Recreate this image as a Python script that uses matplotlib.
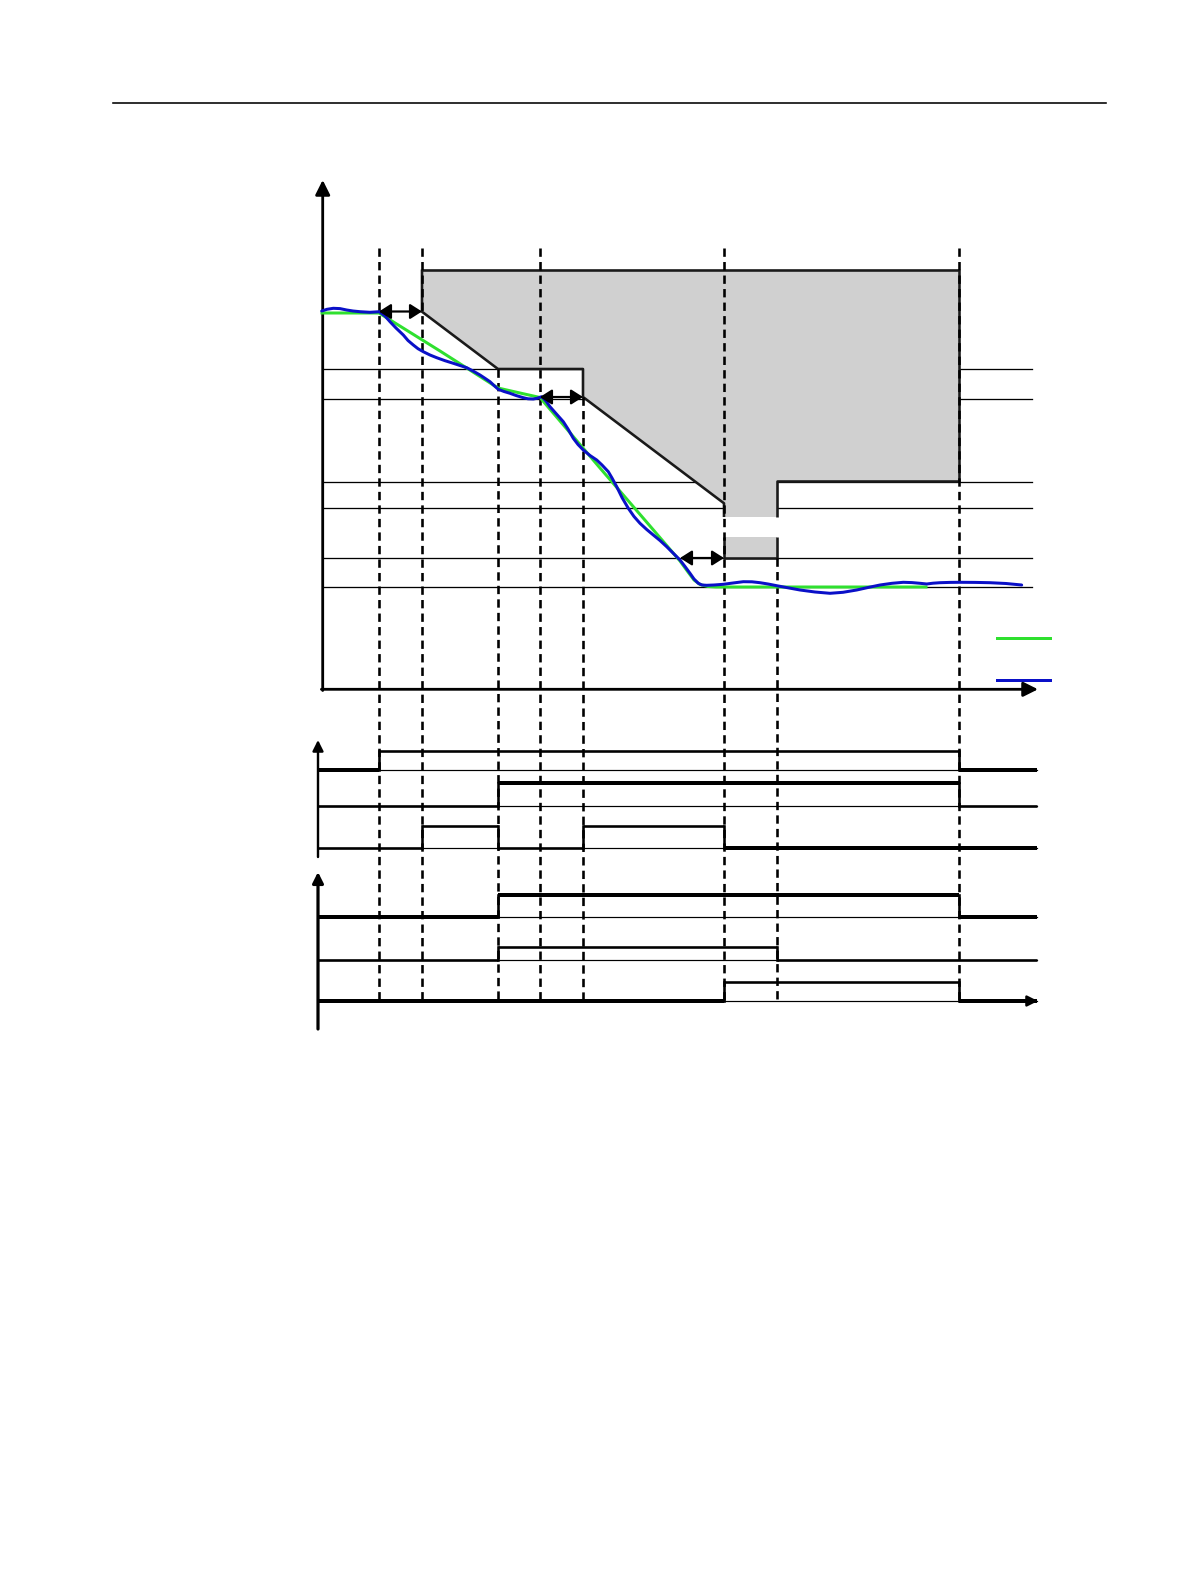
import numpy as np
import matplotlib
matplotlib.use("Agg")
import matplotlib.pyplot as plt
from matplotlib.patches import Polygon, Rectangle

# ---- diagram data (drawing units = pixels of the page) ----
# event times t1..t8 marked by dashed verticals
t_events = [379, 422, 498, 540, 583, 724, 777, 959]
t_dash_top = [248, 248, 369, 248, 397, 248, 558, 248]
t_dash_bottom = 1001

# main plot levels
ref_levels = [369, 399, 482, 508, 558, 587]

# grey forbidden zone, outline of the upper block and the lower block
zone_x = [422, 959, 959, 777, 777, 724, 724, 583, 583, 498, 422]
zone_y = [269.5, 269.5, 481, 481, 517, 517, 503.3, 397, 369, 369, 311.7]
notch_x = [724, 777]
notch_y = [537, 558]

# reference profile (green)
ref_x = [322, 379, 440, 498, 520, 540, 600, 650, 680, 688, 694, 700, 708, 716, 926]
ref_y = [313, 313, 351, 388, 393, 397.5, 468, 526, 561, 572, 580, 584.5, 586.5, 587, 587]

# measured profile (blue)
meas_x = [321.7, 327, 333.3, 340, 346.7, 353, 360, 370, 379.3, 385, 390, 396,
          403.3, 408, 413.3, 418, 423.3, 430, 436.7, 445, 453.3, 460, 466.7,
          473, 480, 485, 490, 494, 498.3, 504, 510, 516, 523.3, 528, 533.3,
          537, 541.7, 546, 550, 556, 563.3, 568, 573.3, 578, 583.3, 590,
          596.7, 602, 608.3, 612, 616.7, 622, 628.3, 634, 640, 646.7, 653.3,
          660, 666.7, 673, 680, 685, 690, 694, 698.3, 702, 706.7, 714, 723.3,
          733, 743.3, 752, 760, 768, 776.7, 788, 800, 815, 830, 843, 856.7,
          868, 880, 892, 903.3, 912, 920, 926.7, 933, 940, 950, 960, 975,
          990, 1006, 1021.7]
meas_y = [311, 309.3, 308.3, 308.6, 310, 311, 311.7, 312.3, 311.7, 316, 321.7,
          328, 335, 340.5, 345, 348.7, 351.7, 355, 357.7, 360.7, 363.3, 365.5,
          367.7, 371, 375, 378.3, 381.7, 385.5, 389.3, 391.5, 393.3, 395.5,
          397.7, 398.8, 399, 398.3, 396.7, 401, 406.7, 413.5, 421.7, 429,
          438.3, 444.5, 450, 455.5, 460, 465, 471.7, 478, 486.7, 497.5, 508.3,
          516.5, 523.3, 529.5, 535, 540.5, 546.7, 553, 560, 566.5, 573.3, 579,
          583.3, 585, 585.3, 585, 584.3, 583, 581.7, 581.8, 582.7, 584, 585.7,
          587.8, 590, 592, 593.3, 592.3, 590, 587.5, 585, 583.3, 582.3, 582.6,
          583.3, 584, 583.2, 582.7, 582.4, 582.3, 582.4, 582.7, 583.5, 585]

# double arrows (delay intervals)
delay_y = [311.5, 397, 558]
delay_from = [379, 540, 680]
delay_to = [422, 583, 724]

# legend samples
legend_x = [997, 1050]
legend_y = [637.7, 680]

# binary signals: baseline, high level, switching times, states, thick segments
sig_base = [770, 806, 847.7, 916.7, 960, 1001]
sig_high = [751, 783.3, 825.7, 895, 946.7, 982]
sig_edges = [[379, 959], [498, 959], [422, 498, 583, 724],
             [498, 959], [498, 777], [724, 959]]
sig_states = [[0, 1, 0], [0, 1, 0], [0, 1, 0, 1, 0],
              [0, 1, 0], [0, 1, 0], [0, 1, 0]]
sig_thick = [[1, 0, 1], [0, 1, 0], [0, 0, 0, 0, 1],
             [1, 1, 1], [0, 0, 0], [1, 0, 1]]
sig_start, sig_end = 318, 1037

PX = 0.72  # points per pixel at 100 dpi
GREEN = "#2fe02f"
BLUE = "#0a10c8"
GREY = "#d0d0d0"

fig = plt.figure(figsize=(11.91, 15.87), dpi=100)
ax = fig.add_axes([0, 0, 1, 1])
ax.set_xlim(0, 1191)
ax.set_ylim(1587, 0)
ax.axis("off")

# page header rule
ax.plot([113, 1106], [103.3, 103.3], color="black", lw=1.6 * PX)

# thin reference levels
for yl in ref_levels:
    ax.plot([323, 1032], [yl, yl], color="black", lw=1.3 * PX, zorder=1)

# grey zone
ax.add_patch(Polygon(list(zip(zone_x, zone_y)), closed=True, facecolor=GREY,
                     edgecolor="none", zorder=2))
ax.add_patch(Rectangle((notch_x[0], notch_y[0]), notch_x[1] - notch_x[0],
                       notch_y[1] - notch_y[0], facecolor=GREY,
                       edgecolor="none", zorder=2))
edge_kw = dict(color="#1a1a1a", lw=2.6 * PX, zorder=3, solid_capstyle="butt")
ax.plot(zone_x[:5], zone_y[:5], **edge_kw)
ax.plot(zone_x[5:] + [zone_x[0]], zone_y[5:] + [zone_y[0]], **edge_kw)
ax.plot([notch_x[0], notch_x[0], notch_x[1], notch_x[1]],
        [notch_y[0], notch_y[1], notch_y[1], notch_y[0]], **edge_kw)

# dashed event markers
for tx, ty in zip(t_events, t_dash_top):
    ax.plot([tx, tx], [ty, t_dash_bottom], color="black", lw=2.6 * PX,
            linestyle=(0, (3.2, 2.0)), zorder=4)

# profiles
ax.plot(ref_x, ref_y, color=GREEN, lw=3.0 * PX, zorder=5)
ax.plot(meas_x, meas_y, color=BLUE, lw=3.0 * PX, zorder=6,
        solid_joinstyle="round", solid_capstyle="round")

# delay arrows
for y, x0, x1 in zip(delay_y, delay_from, delay_to):
    ax.annotate("", xy=(x1, y), xytext=(x0, y),
                arrowprops=dict(arrowstyle="<|-|>,head_length=0.55,head_width=0.35",
                                mutation_scale=13, lw=2.2 * PX, color="black",
                                shrinkA=0, shrinkB=0), zorder=7)

# legend samples
ax.plot(legend_x, [legend_y[0]] * 2, color=GREEN, lw=3.0 * PX)
ax.plot(legend_x, [legend_y[1]] * 2, color=BLUE, lw=3.0 * PX)

# main axes
axis_kw = dict(arrowstyle="-|>", mutation_scale=22, lw=2.8 * PX,
               color="black", shrinkA=0, shrinkB=0)
ax.annotate("", xy=(322.7, 180), xytext=(322.7, 690.5), arrowprops=axis_kw)
ax.annotate("", xy=(1038, 689.3), xytext=(321.4, 689.3), arrowprops=axis_kw)

# lower panels: vertical axes
small_kw = dict(arrowstyle="-|>", mutation_scale=16, lw=2.4 * PX,
                color="black", shrinkA=0, shrinkB=0)
ax.annotate("", xy=(318, 740), xytext=(318, 857), arrowprops=small_kw)
ax.annotate("", xy=(318, 872), xytext=(318, 1029),
            arrowprops=dict(small_kw, lw=3.2 * PX))
ax.annotate("", xy=(1038, 1001), xytext=(1020, 1001), arrowprops=small_kw)

# binary signals
for base, high, edges, states, thick in zip(sig_base, sig_high, sig_edges,
                                            sig_states, sig_thick):
    ax.plot([sig_start, sig_end], [base, base], color="black", lw=1.2 * PX,
            zorder=3)
    bounds = [sig_start] + edges + [sig_end]
    for i, st in enumerate(states):
        yv = high if st else base
        lw = 4.0 if thick[i] else 2.6
        ax.plot([bounds[i], bounds[i + 1]], [yv, yv], color="black",
                lw=lw * PX, zorder=5, solid_capstyle="butt")
    for ex in edges:
        ax.plot([ex, ex], [base, high], color="black", lw=2.6 * PX, zorder=5)

fig.savefig("out.png", dpi=100)
